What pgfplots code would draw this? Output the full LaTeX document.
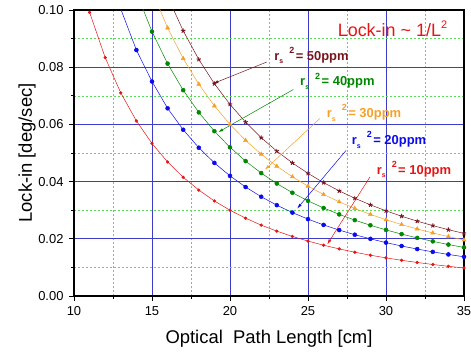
\documentclass[border=0pt]{standalone}
\usepackage{fontspec}
\setmainfont{Liberation Sans}
\setsansfont{Liberation Sans}
\usepackage{pgfplots}
\pgfplotsset{compat=1.18}
\usetikzlibrary{arrows.meta}
\definecolor{cred}{RGB}{230,20,20}
\definecolor{cblue}{RGB}{10,10,240}
\definecolor{cgreen}{RGB}{0,135,0}
\definecolor{corange}{RGB}{245,160,40}
\definecolor{cbrown}{RGB}{120,20,30}
\definecolor{gridblue}{RGB}{60,60,200}
\definecolor{gridgreen}{RGB}{90,220,90}
\newcommand{\rs}{r\raisebox{-0.55ex}{\fontsize{7}{8}\selectfont s}\hspace{6bp}\raisebox{0.95ex}{\fontsize{9}{10}\selectfont 2}\hspace{1.5bp}=}
\begin{document}
\begin{tikzpicture}
\path[use as bounding box] (-74bp,-59bp) rectangle (397bp,296bp);
\begin{axis}[
  scale only axis, width=390bp, height=286bp,
  xmin=10, xmax=35, ymin=0, ymax=0.10,
  xtick={10,15,20,25,30,35},
  ytick={0,0.02,0.04,0.06,0.08,0.10},
  minor x tick num=1, minor y tick num=1,
  scaled y ticks=false,
  yticklabel style={/pgf/number format/fixed,/pgf/number format/fixed zerofill,/pgf/number format/precision=2},
  /pgf/number format/assume math mode=true,
  ticklabel style={font=\fontsize{13}{15}\selectfont},
  xticklabel style={yshift=-2bp},
  yticklabel style={xshift=-2bp},
  tick align=outside, tick pos=left,
  major tick length=5bp, minor tick length=3bp,
  tick style={black, line width=0.9pt},
  axis line style={black, line width=1.3pt},
  grid=both,
  major grid style={gridblue, line width=0.7pt, solid},
  minor grid style={gridgreen, line width=0.6pt, dash pattern=on 2bp off 2bp},
  every axis x label/.style={at={(axis description cs:0.5,-0.148)},anchor=center},
  every axis y label/.style={at={(axis description cs:-0.12,0.5)},rotate=90,anchor=center},
  label style={font=\fontsize{18.5}{20}\selectfont},
  xlabel={Optical\ \ Path Length [cm]},
  ylabel={Lock-in [deg/sec]},
  clip=true,
]
\addplot[cred, line width=0.5pt, mark=*, mark size=1.4pt] coordinates {
(11,0.09917)(12,0.08333)(13,0.07101)(14,0.06122)(15,0.05333)(16,0.04688)(17,0.04152)(18,0.03704)(19,0.03324)(20,0.03000)(21,0.02721)(22,0.02479)(23,0.02268)(24,0.02083)(25,0.01920)(26,0.01775)(27,0.01646)(28,0.01531)(29,0.01427)(30,0.01333)(31,0.01249)(32,0.01172)(33,0.01102)(34,0.01038)(35,0.00980)};
\addplot[cblue, line width=0.5pt, mark=*, mark size=2pt] coordinates {
(12,0.11740)(13,0.10030)(14,0.08600)(15,0.07500)(16,0.06563)(17,0.05813)(18,0.05185)(19,0.04654)(20,0.04200)(21,0.03810)(22,0.03471)(23,0.03176)(24,0.02917)(25,0.02688)(26,0.02485)(27,0.02305)(28,0.02143)(29,0.01998)(30,0.01867)(31,0.01748)(32,0.01641)(33,0.01543)(34,0.01453)(35,0.01371)};
\addplot[cgreen, line width=0.5pt, mark=*, mark size=2pt] coordinates {
(14,0.10612)(15,0.09244)(16,0.08125)(17,0.07197)(18,0.06420)(19,0.05762)(20,0.05200)(21,0.04717)(22,0.04298)(23,0.03932)(24,0.03611)(25,0.03328)(26,0.03077)(27,0.02853)(28,0.02653)(29,0.02473)(30,0.02311)(31,0.02164)(32,0.02031)(33,0.01910)(34,0.01799)(35,0.01698)};
\addplot[corange, line width=0.5pt, mark=triangle*, mark size=2.3pt] coordinates {
(15,0.10667)(16,0.09375)(17,0.08304)(18,0.07407)(19,0.06648)(20,0.06000)(21,0.05442)(22,0.04959)(23,0.04537)(24,0.04167)(25,0.03840)(26,0.03550)(27,0.03292)(28,0.03061)(29,0.02854)(30,0.02667)(31,0.02497)(32,0.02344)(33,0.02204)(34,0.02076)(35,0.01959)};
\addplot[cbrown, line width=0.5pt, mark=star, mark size=2.3pt, mark options={line width=0.9pt}] coordinates {
(16,0.10469)(17,0.09273)(18,0.08272)(19,0.07424)(20,0.06700)(21,0.06077)(22,0.05537)(23,0.05066)(24,0.04653)(25,0.04288)(26,0.03964)(27,0.03676)(28,0.03418)(29,0.03187)(30,0.02978)(31,0.02789)(32,0.02617)(33,0.02461)(34,0.02318)(35,0.02188)};
% annotations
\draw[cbrown, line width=0.5pt, -{Latex[length=5bp,width=3bp]}] (axis cs:22.35,0.0818) -- (axis cs:18.93,0.0743);
\draw[cgreen, line width=0.5pt, -{Latex[length=5bp,width=3bp]}] (axis cs:24.06,0.0722) -- (axis cs:19.25,0.0573);
\draw[corange, line width=0.5pt, -{Latex[length=5bp,width=3bp]}] (axis cs:25.77,0.0621) -- (axis cs:22.24,0.0442);
\draw[cblue, line width=0.5pt, -{Latex[length=5bp,width=3bp]}] (axis cs:27.44,0.0509) -- (axis cs:24.31,0.0306);
\draw[cred, line width=0.5pt, -{Latex[length=5bp,width=3bp]}] (axis cs:28.97,0.0416) -- (axis cs:26.24,0.0181);
\node[anchor=west, inner sep=0pt, text=cbrown, font=\bfseries\fontsize{13}{15}\selectfont] at (axis cs:22.83,0.0840) {\rs\ 50ppm};
\node[anchor=west, inner sep=0pt, text=cgreen, font=\bfseries\fontsize{13}{15}\selectfont] at (axis cs:24.49,0.0750) {\rs\ 40ppm};
\node[anchor=west, inner sep=0pt, text=corange, font=\bfseries\fontsize{13}{15}\selectfont] at (axis cs:26.2,0.0640) {\rs\ 30ppm};
\node[anchor=west, inner sep=0pt, text=cblue, font=\bfseries\fontsize{13}{15}\selectfont] at (axis cs:27.8,0.0546) {\rs\ 20ppm};
\node[anchor=west, inner sep=0pt, text=cred, font=\bfseries\fontsize{13}{15}\selectfont] at (axis cs:29.4,0.0442) {\rs\ 10ppm};
\node[anchor=west, inner sep=0pt, text=cred, font=\fontsize{18}{20}\selectfont] at (axis cs:26.9,0.0935) {Lock-in \textasciitilde\ 1/L\raisebox{0.8ex}{\fontsize{11}{12}\selectfont 2}};
\end{axis}
\end{tikzpicture}
\end{document}
